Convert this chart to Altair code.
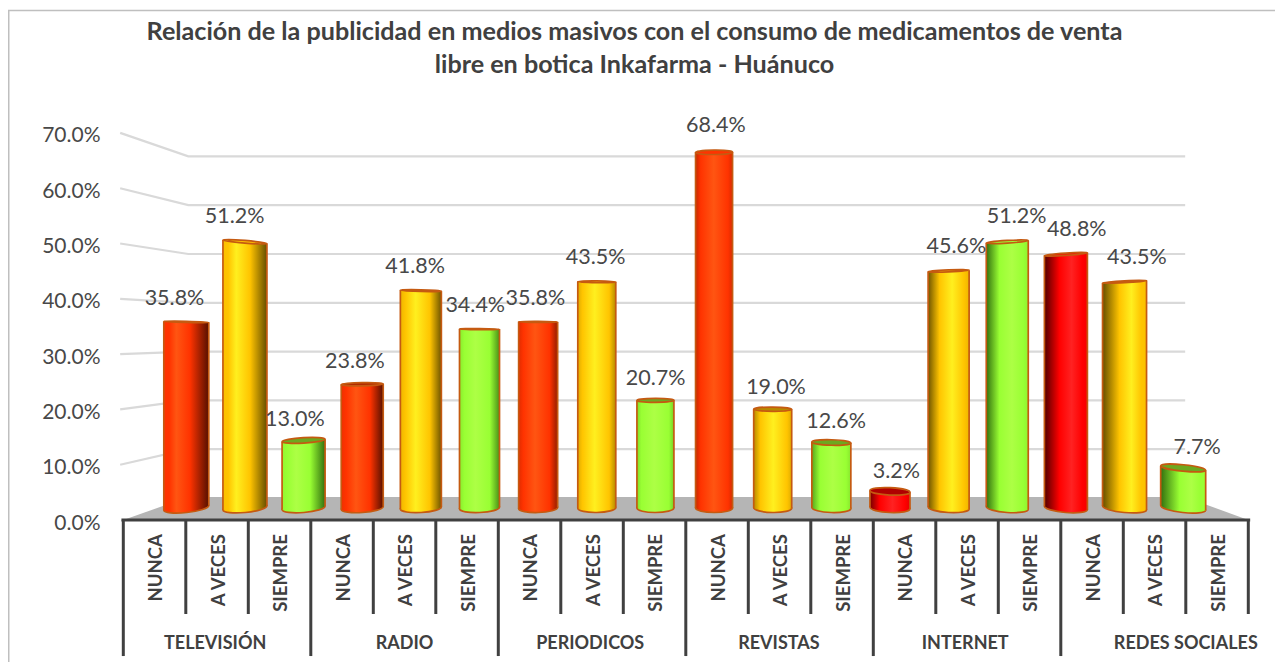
import math
import altair as alt
import pandas as pd

TITLE = ["Relación de la publicidad en medios masivos con el consumo de medicamentos de venta",
         "libre en botica Inkafarma - Huánuco"]
GROUPS = ["TELEVISIÓN", "RADIO", "PERIODICOS", "REVISTAS", "INTERNET", "REDES SOCIALES"]
GROUP_POS = [1.47, 4.5, 7.47, 10.49, 13.47, 17.0]
LEVELS = ["NUNCA", "A VECES", "SIEMPRE"]
VALUES = [35.8, 51.2, 13.0, 23.8, 41.8, 34.4, 35.8, 43.5, 20.7,
          68.4, 19.0, 12.6, 3.2, 45.6, 51.2, 48.8, 43.5, 7.7]
TICKS = [0, 10, 20, 30, 40, 50, 60, 70]
PURE_RED = {12, 15}

W, H = 1267, 654
FONT = "Lato"
TXT = "#404040"
EDGE = "#C55A11"


def ydom(zero_page, unit):
    return [-(8 + H - zero_page) / unit, (zero_page - 8) / unit]


def xdom(zero_page, unit):
    return [-(zero_page - 8) / unit, (8 + W - zero_page) / unit]


# front plane (axis, floor, walls)
FX = alt.Scale(domain=xdom(123.3, 62.5), nice=False, zero=False)
FY = alt.Scale(domain=ydom(520, 5.53), nice=False, zero=False)
# perspective plane of the columns
BAR_UX, BAR_UY = 58.64, 5.2
BX = alt.Scale(domain=xdom(186.3, BAR_UX), nice=False, zero=False)
BY = alt.Scale(domain=ydom(508, BAR_UY), nice=False, zero=False)

Y_AXIS = alt.Axis(
    values=TICKS, offset=-92, domain=False, ticks=False, grid=False, title=None,
    labelExpr="format(datum.value,'.1f')+'%'", labelFont=FONT, labelFontSize=21,
    labelColor="#484848", labelPadding=0, labelOffset=3, labelOverlap=False, labelFlush=False)


def fx(f="x"):
    return alt.X(f"{f}:Q", scale=FX, axis=None)


def fy(f="y"):
    return alt.Y(f"{f}:Q", scale=FY, axis=Y_AXIS)


def bx(f="x"):
    return alt.X(f"{f}:Q", scale=BX, axis=None)


def by(f="y"):
    return alt.Y(f"{f}:Q", scale=BY, axis=None)


def mix(a, b, t):
    pa = [int(a[k:k + 2], 16) for k in (1, 3, 5)]
    pb = [int(b[k:k + 2], 16) for k in (1, 3, 5)]
    return "#%02X%02X%02X" % tuple(round(p + (q - p) * t) for p, q in zip(pa, pb))


PAL = {
    "orange": ("#FF3300", "#FF5512", "#551000", "#B02A00"),
    "red": ("#FF0000", "#FF2222", "#500000", "#B00000"),
    "yellow": ("#FFC400", "#FFEF1F", "#654E00", "#B88A00"),
    "green": ("#99FF33", "#ADFF45", "#33700F", "#6DA81F"),
}


def gradient(i, pal):
    base, light, dark, _ = pal
    t = (i - 8.5) / 8.5
    dl = min(1.0, 0.25 + 1.3 * t) if t >= 0 else max(0.0, 0.25 + 0.25 * t)
    dr = min(1.0, 0.25 - 1.3 * t) if t <= 0 else max(0.0, 0.25 - 0.25 * t)
    lo = 0.12 + 0.3 * max(0, t)
    hi = 0.88 - 0.3 * max(0, -t)
    pos = 0.48 + 0.2 * t
    stops = [(0, mix(base, dark, dl)), (lo, base), (pos, light), (hi, base), (1, mix(base, dark, dr))]
    return alt.Gradient(gradient="linear", x1=0, x2=1, y1=0, y2=0,
                        stops=[alt.GradientStop(offset=o, color=c) for o, c in stops])


def ellipse(r):
    return f"M-1,0A1,{r:.3f},0,1,1,1,0A1,{r:.3f},0,1,1,-1,0Z"


def one_bar(i, v):
    if i in PURE_RED:
        pal = PAL["red"]
    else:
        pal = PAL[["orange", "yellow", "green"][i % 3]]
    w = 36.5 + abs(i - 8.5)
    rx = w / 2
    grad = gradient(i, pal)
    a_top = 0.03 * (i - 8.5) * (30 - v)
    a_bot = 0.03 * (i - 8.5) * 30 * 0.8
    st = rx * math.sin(math.radians(a_top)) / BAR_UY
    sb = rx * math.sin(math.radians(a_bot)) / BAR_UY
    hw = rx / BAR_UX
    ry_top = 0.5 + (0.05 if v > 35 else 0.1) * abs(v - 35)
    ry_bot = 4.5
    body = pd.DataFrame({"x": [i - hw, i + hw], "y": [v + st, v - st], "y0": [sb, -sb]})
    c = pd.DataFrame({"x": [i], "top": [v], "bot": [0.0]})
    return [
        alt.Chart(c).mark_point(filled=True, shape=ellipse(ry_bot / rx), size=w * w,
                                angle=(a_bot + 360) % 360, fill=grad, stroke=EDGE,
                                strokeWidth=1.7, opacity=1).encode(x=bx(), y=by("bot")),
        alt.Chart(body).mark_area(color=grad, opacity=1).encode(x=bx(), y=by(), y2="y0:Q"),
        alt.Chart(body).mark_rule(color=EDGE, strokeWidth=1.7).encode(x=bx(), y=by(), y2="y0:Q"),
        alt.Chart(c).mark_point(filled=True, shape=ellipse(ry_top / rx), size=w * w,
                                angle=(a_top + 360) % 360,
                                fill=pal[3] if v < 35 else pal[0], stroke=EDGE,
                                strokeWidth=1.7, opacity=1).encode(x=bx(), y=by("top")),
    ]


# ---- back plane: grid, floor, axis, labels
grid_rows = []
for v in TICKS[1:]:
    for xp, yp in ((-0.05, v), (1.04, 3.98 + 0.8825 * v), (16.99, 3.98 + 0.8825 * v)):
        grid_rows.append({"level": v, "x": xp, "y": yp})
grid = alt.Chart(pd.DataFrame(grid_rows)).mark_line(color="#D9D9D9", strokeWidth=2.2).encode(
    x=fx(), y=fy(), detail="level:N")

floor = alt.Chart(pd.DataFrame({"x": [0, 1.04, 16.99, 18], "y": [0, 4.16, 4.16, 0], "y0": [0, 0, 0, 0]})
                  ).mark_area(color="#B5B5B5", opacity=1).encode(x=fx(), y=fy(), y2="y0:Q")

base_line = alt.Chart(pd.DataFrame({"x": [-0.03], "x2": [18.03], "y": [0]})).mark_rule(
    color=TXT, strokeWidth=3).encode(x=fx(), x2="x2:Q", y=fy())

tick_df = pd.DataFrame({"x": list(range(19)), "y": [0] * 19,
                        "y2": [-24.6 if k % 3 == 0 and k < 18 else -17.0 for k in range(19)]})
ticks = alt.Chart(tick_df).mark_rule(color=TXT, strokeWidth=3).encode(x=fx(), y=fy(), y2="y2:Q")

cat_df = pd.DataFrame({"x": [k + 0.53 for k in range(18)], "y": [-2.55] * 18,
                       "t": [LEVELS[k % 3] for k in range(18)]})
cats = alt.Chart(cat_df).mark_text(angle=270, align="right", baseline="middle", font=FONT,
                                   fontWeight="bold", fontSize=18.5, color=TXT).encode(
    x=fx(), y=fy(), text="t:N")

grp_df = pd.DataFrame({"x": GROUP_POS, "y": [-22.35] * 6, "t": GROUPS})
grps = alt.Chart(grp_df).mark_text(align="center", baseline="middle", font=FONT,
                                   fontWeight="bold", fontSize=18, color=TXT).encode(
    x=fx(), y=fy(), text="t:N")

frame_l = alt.Chart(pd.DataFrame({"a": [0]})).mark_rule(color="#BFBFBF", strokeWidth=1.5).encode(
    x=alt.value(0.75), y=alt.value(2.5), y2=alt.value(H))
frame_t = alt.Chart(pd.DataFrame({"a": [0]})).mark_rule(color="#BFBFBF", strokeWidth=1.5).encode(
    x=alt.value(0), x2=alt.value(W), y=alt.value(2.5))

back = alt.layer(grid, frame_l, frame_t, floor, base_line, ticks, cats, grps)

# ---- columns and value labels
bar_layers = []
for i, v in enumerate(VALUES):
    bar_layers += one_bar(i, v)

lab_df = pd.DataFrame({
    "x": [(174.5 + 60.15 * i - 186.3) / BAR_UX for i in range(18)],
    "y": [v * 1.019 + 3.75 for v in VALUES],
    "t": [f"{v:.1f}%" for v in VALUES],
})
labels = alt.Chart(lab_df).mark_text(align="center", baseline="middle", font=FONT, fontSize=21.5,
                                     color="#484848").encode(x=bx(), y=by(), text="t:N")

front = alt.layer(*bar_layers, labels)

chart = alt.layer(back, front).resolve_scale(x="independent", y="independent").properties(
    width=W, height=H, padding=0,
    autosize=alt.AutoSizeParams(type="none"),
    title=alt.TitleParams(text=TITLE, anchor="middle", dx=-7, offset=-70, font=FONT,
                          fontWeight="bold", fontSize=25.15, lineHeight=33, color=TXT),
).configure_view(stroke=None)

chart.save("out.html", embed_options={"renderer": "svg", "actions": False})
